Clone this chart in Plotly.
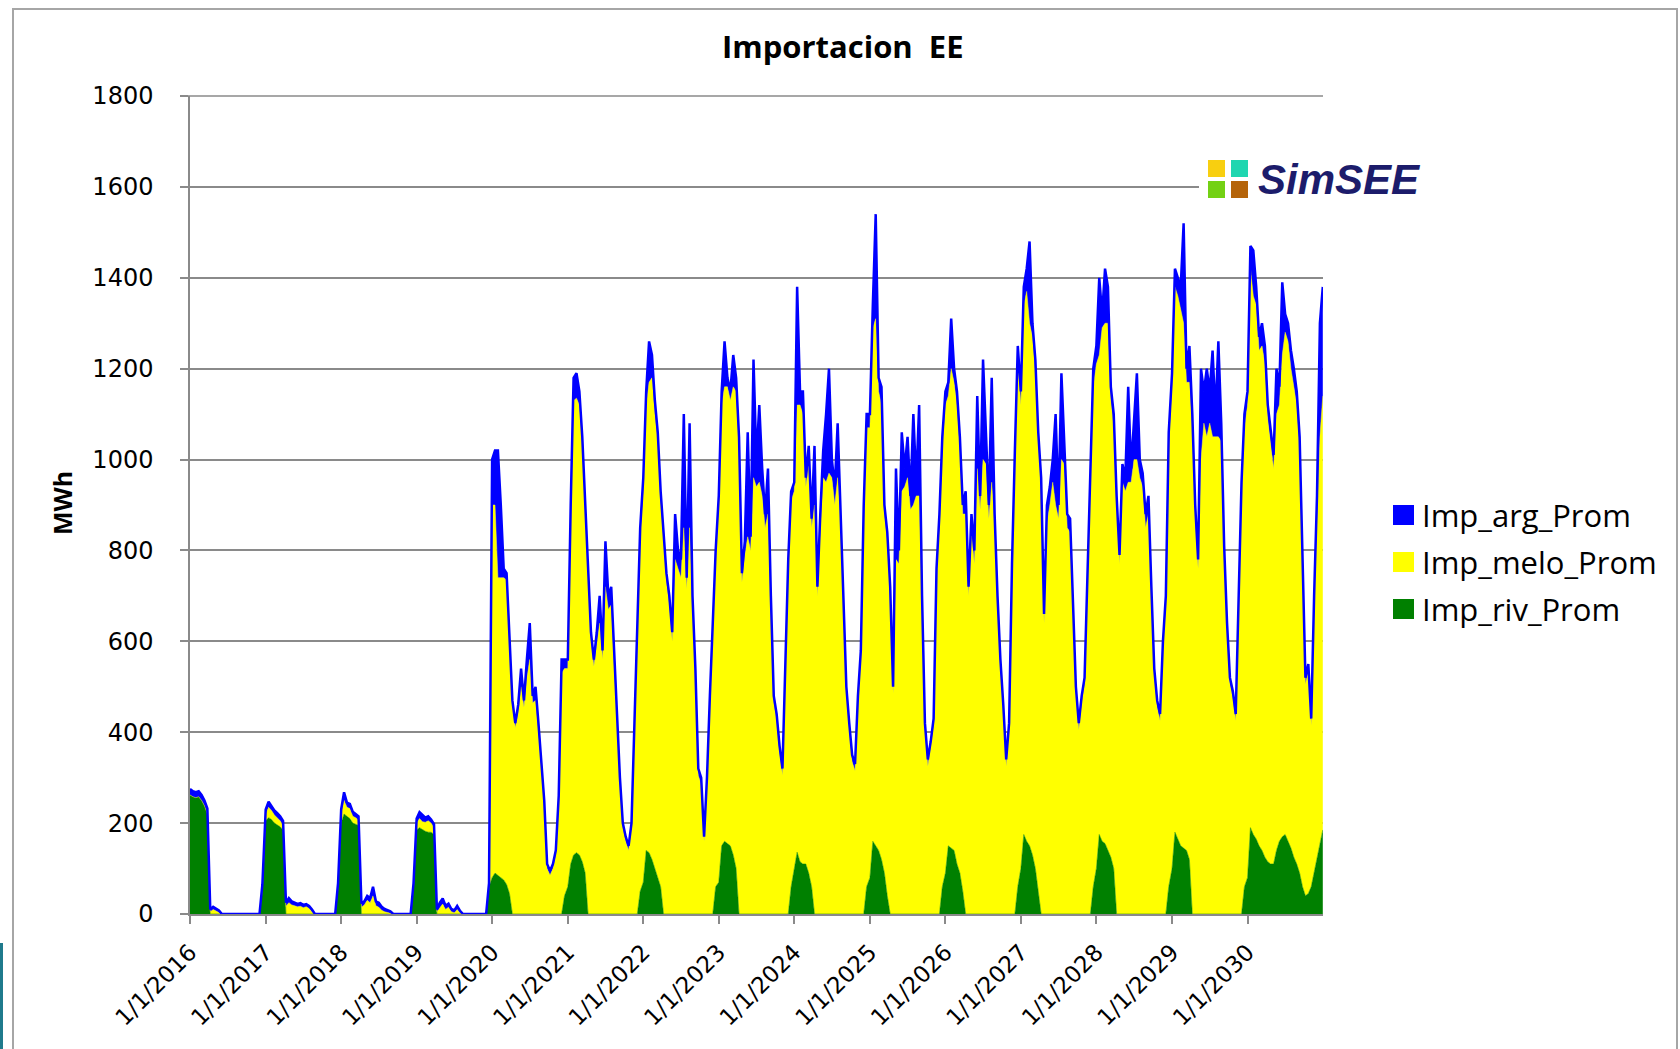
import plotly.graph_objects as go
from datetime import date, timedelta

# ---------------- data (biweekly samples) ----------------
YEARS = [2016, 2017, 2018, 2019, 2020, 2021, 2022, 2023, 2024, 2025, 2026, 2027, 2028, 2029, 2030]
tick_labels = ["1/1/2016", "1/1/2017", "1/1/2018", "1/1/2019", "1/1/2020", "1/1/2021",
               "1/1/2022", "1/1/2023", "1/1/2024", "1/1/2025", "1/1/2026", "1/1/2027",
               "1/1/2028", "1/1/2029", "1/1/2030"]

imp_riv = [
    262,258,256,258,250,238,220,0,0,0,0,0,0,0,0,0,0,0,0,0,0,0,0,0,0,55,
    205,212,208,200,196,192,185,0,0,0,0,0,0,0,0,0,0,0,0,0,0,0,0,0,0,60,
    200,220,215,210,200,198,195,0,0,0,0,0,0,0,0,0,0,0,0,0,0,0,0,0,0,60,
    185,190,185,182,180,180,175,0,0,0,0,0,0,0,0,0,0,0,0,0,0,0,0,0,0,60,
    80,90,85,80,75,65,45,0,0,0,0,0,0,0,0,0,0,0,0,0,0,0,0,0,0,40,
    60,110,130,135,130,115,90,0,0,0,0,0,0,0,0,0,0,0,0,0,0,0,0,0,0,50,
    70,140,135,120,100,85,60,0,0,0,0,0,0,0,0,0,0,0,0,0,0,0,0,0,0,60,
    70,150,160,155,150,130,100,0,0,0,0,0,0,0,0,0,0,0,0,0,0,0,0,0,0,60,
    100,136,115,110,110,90,60,0,0,0,0,0,0,0,0,0,0,0,0,0,0,0,0,0,0,60,
    80,160,150,140,120,90,40,0,0,0,0,0,0,0,0,0,0,0,0,0,0,0,0,0,0,60,
    90,150,145,140,110,90,50,0,0,0,0,0,0,0,0,0,0,0,0,0,0,0,0,0,0,60,
    100,175,160,150,130,100,50,0,0,0,0,0,0,0,0,0,0,0,0,0,0,0,0,0,0,60,
    100,175,160,155,140,125,100,0,0,0,0,0,0,0,0,0,0,0,0,0,0,0,0,0,0,60,
    100,180,165,150,145,140,120,0,0,0,0,0,0,0,0,0,0,0,0,0,0,0,0,0,0,60,
    80,190,175,165,150,140,125,115,110,110,140,160,170,175,160,145,125,110,90,60,40,45,60,90,125,150,185,
]

imp_melo = [
    0,0,0,0,0,0,0,5,10,7,3,0,0,0,0,0,0,0,0,0,0,0,0,0,0,0,
    15,23,20,18,16,13,10,17,25,20,18,16,17,14,16,12,5,0,0,0,0,0,0,0,0,0,
    20,30,20,22,15,14,12,15,20,30,25,40,18,15,8,5,3,2,0,0,0,0,0,0,0,0,
    15,20,18,20,25,20,15,5,15,22,10,15,5,3,10,3,0,0,0,0,0,0,0,0,0,0,
    820,810,655,660,665,670,545,460,410,440,500,455,520,560,465,470,400,315,240,100,85,100,130,250,530,500,
    480,770,1000,1000,990,915,790,735,600,545,590,640,560,720,670,680,540,425,290,190,160,140,190,405,630,780,
    860,980,1035,1060,1000,955,850,810,730,680,600,780,760,740,850,715,850,680,520,305,285,160,290,465,630,720,
    830,970,1000,1005,980,1030,1050,1020,730,790,830,800,960,940,950,920,850,880,680,465,425,355,305,540,760,850,
    830,984,1005,990,830,900,790,900,700,840,960,950,970,960,900,960,870,700,485,405,335,315,465,560,870,1010,
    990,1130,1160,1010,1000,790,780,700,485,780,770,930,940,960,890,900,920,920,680,405,325,365,415,740,850,960,
    1030,990,1055,1030,1010,930,830,880,700,840,770,980,890,1000,990,870,950,850,680,540,445,325,405,750,990,1150,
    1020,1165,1210,1150,1140,1090,990,940,640,860,900,950,900,870,1000,990,850,840,680,485,405,465,505,730,970,1100,
    1110,1055,1130,1145,1160,1005,970,900,770,950,930,950,950,1000,1000,960,940,850,880,700,525,455,425,580,680,970,
    1060,1200,1195,1180,1155,1030,1050,1070,870,760,1000,1080,1050,1080,1050,1050,1050,1040,790,620,505,475,425,680,920,1010,
    1040,1230,1185,1175,1090,1110,1085,975,930,870,960,960,1060,1105,1100,1055,1035,1010,930,700,465,490,355,590,765,900,955,
]

imp_arg = [
    13,12,12,12,12,12,12,5,6,5,5,0,0,0,0,0,0,0,0,0,0,0,0,0,0,10,
    10,12,10,10,10,10,10,8,10,8,7,6,7,6,6,6,5,0,0,0,0,0,0,0,0,8,
    10,18,10,10,10,8,8,8,8,10,10,20,10,10,8,6,5,4,0,0,0,0,0,0,0,8,
    10,14,15,10,10,8,8,5,10,12,8,8,6,5,8,4,0,0,0,0,0,0,0,0,0,8,
    100,120,280,160,20,15,10,10,10,20,40,15,40,80,15,30,20,15,10,10,10,10,10,10,30,20,
    20,20,50,55,30,20,20,15,20,15,30,60,20,100,30,40,20,15,10,10,10,10,10,15,20,20,
    30,30,90,50,30,20,20,20,20,20,20,100,40,40,250,25,230,20,20,15,15,10,10,15,20,20,
    20,30,100,20,20,70,30,30,20,30,230,30,260,60,170,60,30,100,20,15,15,15,15,20,20,20,
    20,260,30,50,20,40,20,130,20,40,60,150,230,40,40,120,30,20,15,15,15,15,15,20,30,30,
    30,50,230,30,40,20,20,20,15,200,30,130,40,90,30,200,30,200,20,15,15,15,15,20,30,30,
    30,30,110,30,30,30,20,50,20,40,30,160,30,220,60,30,230,30,20,20,15,15,15,20,30,40,
    30,40,50,180,30,30,20,20,20,40,40,50,200,30,190,60,30,30,20,15,15,15,15,20,30,40,
    40,170,30,120,80,30,30,20,20,40,30,210,30,80,190,40,30,30,40,20,15,15,15,20,20,30,
    30,40,40,50,220,30,80,30,30,20,200,70,150,70,190,50,210,40,20,20,15,15,15,20,30,30,
    30,50,100,40,30,50,40,30,30,30,100,40,160,40,40,40,40,30,30,20,15,15,15,20,30,250,240,
]

# sample dates: every 14 days from 1 January of each year (last year has one extra sample)
dates = []
for y in YEARS:
    n = 27 if y == YEARS[-1] else 26
    for k in range(n):
        dates.append(date(y, 1, 1) + timedelta(days=14 * k))

# ---------------- figure ----------------
PL, PR, PT, PB = 190, 1323, 96, 914   # plot area in page pixels
W, H = 1680, 1049


def px(x):
    return (x - PL) / (PR - PL)


def py(y):
    return (PB - y) / (PB - PT)


GRID = "#8a8a8a"
fig = go.Figure()
fig.add_trace(go.Scatter(x=dates, y=imp_riv, name="Imp_riv_Prom", stackgroup="s", mode="lines",
                         line=dict(width=0.5, color="#008000"), fillcolor="#008000"))
fig.add_trace(go.Scatter(x=dates, y=imp_melo, name="Imp_melo_Prom", stackgroup="s", mode="lines",
                         line=dict(width=0.5, color="#ffff00"), fillcolor="#ffff00"))
fig.add_trace(go.Scatter(x=dates, y=imp_arg, name="Imp_arg_Prom", stackgroup="s", mode="lines",
                         line=dict(width=2.5, color="#0000ff"), fillcolor="#0000ff"))

fig.update_layout(
    width=W, height=H,
    margin=dict(l=PL, r=W - PR, t=PT, b=H - PB),
    paper_bgcolor="white", plot_bgcolor="white",
    showlegend=False,
    font=dict(family="DejaVu Sans", size=24, color="#000000"),
    xaxis=dict(
        type="date", range=["2016-01-01", "2031-01-01"],
        tickvals=[date(y, 1, 1) for y in YEARS], ticktext=tick_labels,
        tickangle=-45, tickfont=dict(family="DejaVu Sans", size=23, color="#000000"),
        showgrid=False, showline=True, linecolor=GRID, linewidth=1.5,
        ticks="outside", ticklen=8, tickcolor=GRID, tickwidth=1.5,
        ticklabelstandoff=6, zeroline=False,
    ),
    yaxis=dict(
        range=[0, 1800], tickvals=[0, 200, 400, 600, 800, 1000, 1200, 1400, 1600, 1800],
        tickfont=dict(family="DejaVu Sans", size=24, color="#000000"),
        showgrid=True, gridcolor=GRID, gridwidth=1.5,
        showline=True, linecolor=GRID, linewidth=1.5,
        ticks="outside", ticklen=8, tickcolor=GRID, tickwidth=1.5,
        ticklabelstandoff=22, zeroline=False,
    ),
)

shapes = []
# top gridline (1800)
shapes.append(dict(type="line", xref="paper", yref="paper", x0=px(PL - 8), x1=1, y0=1, y1=1,
                   line=dict(color=GRID, width=1.5), layer="below"))
# outer frame
shapes.append(dict(type="rect", xref="paper", yref="paper", x0=px(13), x1=px(1677), y0=py(1070), y1=py(9),
                   line=dict(color="#a6a6a6", width=2), layer="above"))
# small teal bar at bottom-left edge
shapes.append(dict(type="rect", xref="paper", yref="paper", x0=px(0), x1=px(3), y0=py(1049), y1=py(943),
                   line=dict(width=0), fillcolor="#1f7a8c", layer="above"))
# logo background and tiles
shapes.append(dict(type="rect", xref="paper", yref="paper", x0=px(1199), x1=px(1330), y0=py(208), y1=py(150),
                   line=dict(width=0), fillcolor="white", layer="above"))
for (x0, y0, col) in [(1208, 160, "#f8cf10"), (1231, 160, "#1fd6b0"), (1208, 181, "#73d114"), (1231, 181, "#b5640a")]:
    shapes.append(dict(type="rect", xref="paper", yref="paper", x0=px(x0), x1=px(x0 + 17), y0=py(y0 + 17), y1=py(y0),
                       line=dict(width=0), fillcolor=col, layer="above"))
# legend swatches
legend_items = [("Imp_arg_Prom", "#0000ff", 515), ("Imp_melo_Prom", "#ffff00", 562), ("Imp_riv_Prom", "#008000", 609)]
for name, col, yc in legend_items:
    shapes.append(dict(type="rect", xref="paper", yref="paper", x0=px(1393), x1=px(1414), y0=py(yc + 10), y1=py(yc - 10),
                       line=dict(width=0), fillcolor=col, layer="above"))

annotations = [
    dict(text="<b>Importacion&nbsp; EE</b>", xref="paper", yref="paper", x=px(843), y=py(46), showarrow=False,
         xanchor="center", yanchor="middle", font=dict(family="Open Sans", size=31, color="#000000")),
    dict(text="<b>MWh</b>", xref="paper", yref="paper", x=px(62), y=py(503), showarrow=False, textangle=-90,
         xanchor="center", yanchor="middle", font=dict(family="Open Sans", size=25, color="#000000")),
    dict(text="<b><i>SimSEE</i></b>", xref="paper", yref="paper", x=px(1256), y=py(179), showarrow=False,
         xanchor="left", yanchor="middle", font=dict(family="Liberation Sans", size=42, color="#1c1c6b")),
]
for name, col, yc in legend_items:
    annotations.append(dict(text=name, xref="paper", yref="paper", x=px(1420), y=py(yc), showarrow=False,
                            xanchor="left", yanchor="middle",
                            font=dict(family="Open Sans", size=31, color="#000000")))

fig.update_layout(shapes=shapes, annotations=annotations)
fig.write_html("out.html", config={"displayModeBar": False},
               post_script="document.body.style.margin='0px';document.body.style.overflow='hidden';")
